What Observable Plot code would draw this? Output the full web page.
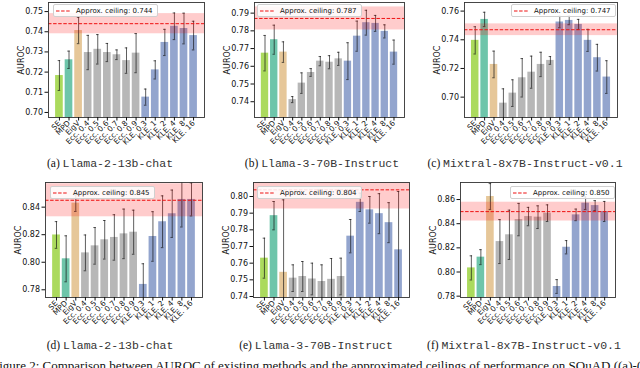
<!DOCTYPE html>
<html>
<head>
<meta charset="utf-8">
<script src="https://cdn.jsdelivr.net/npm/d3@7"></script>
<script src="https://cdn.jsdelivr.net/npm/@observablehq/plot@0.6"></script>
<style>
  html, body { margin: 0; padding: 0; background: #fff; }
  #root { position: relative; width: 640px; height: 368px; overflow: hidden; }
  .panel { position: absolute; }
  .panel svg { overflow: visible; }
  .cap { position: absolute; transform: translate(-50%, -50%); white-space: nowrap; font-size: 11.5px; color: #111; }
  .cap .p { font-family: "Liberation Serif", serif; }
  .cap .m { font-family: "Liberation Mono", monospace; color: #333; }
  .leg { position: absolute; background: rgba(255,255,255,0.85); border: 1px solid #d0d0d0; border-radius: 2px; white-space: nowrap;
         font-family: "DejaVu Sans", sans-serif; font-size: 7px; color: #111; display: flex; align-items: center; height: 13px; box-sizing: border-box; padding: 0 4px 0 2px; }
  .leg svg { margin-right: 5px; flex: none; }
  #fig { position: absolute; left: -8px; top: 358px; font-family: "Liberation Serif", serif; font-size: 13px; white-space: nowrap; color: #111; }
</style>
</head>
<body>
<div id="root"></div>
<script>
// ---- data ----
const categories = ["SE","MPD","EigV","Ecc. 0.4","Ecc. 0.5","Ecc. 0.6","Ecc. 0.7","Ecc. 0.8","Ecc. 0.9","KLE. 0.3","KLE. 1","KLE. 2","KLE. 4","KLE. 8","KLE. 16"];
const groups = ["SE","MPD","EigV","Ecc","Ecc","Ecc","Ecc","Ecc","Ecc","KLE","KLE","KLE","KLE","KLE","KLE"];
const groupColors = {SE: "#a6d854", MPD: "#66c2a5", EigV: "#e5c494", Ecc: "#b3b3b3", KLE: "#8da0cb"};

const modelNames = ["Llama-2-13b-chat","Llama-3-70B-Instruct","Mixtral-8x7B-Instruct-v0.1","Llama-2-13b-chat","Llama-3-70B-Instruct","Mixtral-8x7B-Instruct-v0.1"];
const panelTags = ["(a)","(b)","(c)","(d)","(e)","(f)"];

const aValues = [0.7183,0.7261,0.7406,0.7297,0.7313,0.7297,0.7286,0.7257,0.7294,0.7076,0.7211,0.7347,0.7427,0.7416,0.7381];
const aErrors = [0.0074,0.0043,0.0065,0.0085,0.0073,0.0045,0.0024,0.0063,0.0097,0.0040,0.0045,0.0065,0.0066,0.0076,0.0071];
const bValues = [0.7674,0.7750,0.7680,0.7412,0.7505,0.7565,0.7629,0.7623,0.7642,0.7629,0.7770,0.7846,0.7842,0.7797,0.7680];
const bErrors = [0.0100,0.0082,0.0058,0.0017,0.0058,0.0022,0.0026,0.0037,0.0037,0.0104,0.0085,0.0070,0.0045,0.0037,0.0068];
const cValues = [0.7396,0.7542,0.7228,0.6958,0.7028,0.7135,0.7174,0.7228,0.7256,0.7524,0.7535,0.7507,0.7396,0.7275,0.7140];
const cErrors = [0.0095,0.0050,0.0093,0.0100,0.0093,0.0134,0.0112,0.0085,0.0027,0.0040,0.0030,0.0035,0.0077,0.0093,0.0114];
const dValues = [0.8198,0.8025,0.8429,0.8068,0.8119,0.8163,0.8180,0.8206,0.8218,0.7839,0.8187,0.8294,0.8352,0.8456,0.8456];
const dErrors = [0.0097,0.0167,0.0060,0.0130,0.0133,0.0140,0.0165,0.0180,0.0160,0.0150,0.0180,0.0188,0.0172,0.0200,0.0120];
const eValues = [0.7630,0.7885,0.7545,0.7510,0.7520,0.7505,0.7490,0.7503,0.7520,0.7762,0.7965,0.7920,0.7897,0.7843,0.7680];
const eErrors = [0.0120,0.0085,0.0435,0.0080,0.0090,0.0095,0.0100,0.0125,0.0110,0.0100,0.0055,0.0080,0.0120,0.0120,0.0350];
const fValues = [0.8034,0.8123,0.8625,0.8252,0.8308,0.8434,0.8459,0.8454,0.8487,0.7880,0.8205,0.8473,0.8570,0.8550,0.8501];
const fErrors = [0.0100,0.0062,0.0107,0.0182,0.0204,0.0134,0.0076,0.0094,0.0069,0.0057,0.0055,0.0048,0.0052,0.0041,0.0083];

const ceilings = [0.744, 0.787, 0.747, 0.845, 0.804, 0.850];
const ceilingBands = [0.0050, 0.0065, 0.0041, 0.0120, 0.0115, 0.0078];

const yDomains = [[0.6975,0.7545],[0.7311,0.7960],[0.6858,0.7660],[0.7744,0.8579],[0.7394,0.8084],[0.7789,0.8741]];
const yTicks = [
  [0.70,0.71,0.72,0.73,0.74,0.75],
  [0.74,0.75,0.76,0.77,0.78,0.79],
  [0.70,0.72,0.74,0.76],
  [0.78,0.80,0.82,0.84],
  [0.74,0.75,0.76,0.77,0.78,0.79,0.80],
  [0.78,0.80,0.82,0.84,0.86]
];
const allValues = [aValues,bValues,cValues,dValues,eValues,fValues];
const allErrors = [aErrors,bErrors,cErrors,dErrors,eErrors,fErrors];

// ---- layout (frame rectangles in page px) ----
const frames = [
  {L:48, R:204, T:2, B:117},
  {L:254, R:404, T:2, B:117},
  {L:464, R:617, T:2, B:117},
  {L:45, R:202, T:182, B:297},
  {L:253, R:409, T:182, B:297},
  {L:460, R:615, T:182, B:297}
];
const legendPos = [
  {x:53, y:4}, {x:257, y:4}, {x:511, y:4},
  {x:50, y:186}, {x:257, y:186}, {x:510, y:186}
];
const capPos = [{x:110,y:163},{x:322,y:163},{x:525,y:163},{x:110,y:345},{x:316,y:345},{x:524,y:345}];

const ML = 40, MR = 6, MT = 6, MB = 50;
const xDomain = [-1.14, categories.length - 1 + 1.14];
const root = document.getElementById("root");

for (let p = 0; p < 6; p++) {
  const fr = frames[p];
  const vals = allValues[p], errs = allErrors[p];
  const data = categories.map((c, i) => ({i, c, v: vals[i], e: errs[i], g: groups[i]}));
  const y0 = yDomains[p][0];
  const ceil = ceilings[p], band = ceilingBands[p];
  const chart = Plot.plot({
    width: fr.R - fr.L + ML + MR,
    height: fr.B - fr.T + MT + MB,
    marginLeft: ML, marginRight: MR, marginTop: MT, marginBottom: MB,
    x: {domain: xDomain},
    y: {domain: yDomains[p]},
    style: {fontFamily: "DejaVu Sans, sans-serif", fontSize: "8px", color: "#111", background: "transparent", overflow: "visible"},
    marks: [
      Plot.rect(data, {x1: d => d.i - 0.4, x2: d => d.i + 0.4, y1: y0, y2: "v", fill: d => groupColors[d.g], fillOpacity: 0.95}),
      Plot.ruleX(data, {x: "i", y1: d => d.v - d.e, y2: d => d.v + d.e, stroke: "#111", strokeOpacity: 0.75, strokeWidth: 0.9, clip: true}),
      Plot.ruleY(data, {x1: d => d.i - 0.13, x2: d => d.i + 0.13, y: d => d.v - d.e, stroke: "#111", strokeOpacity: 0.75, strokeWidth: 0.9, clip: true}),
      Plot.ruleY(data, {x1: d => d.i - 0.13, x2: d => d.i + 0.13, y: d => d.v + d.e, stroke: "#111", strokeOpacity: 0.75, strokeWidth: 0.9, clip: true}),
      Plot.rect([ceil], {x1: xDomain[0], x2: xDomain[1], y1: d => d - band, y2: d => d + band, fill: "#ff0000", fillOpacity: 0.2, clip: true}),
      Plot.ruleY([ceil], {stroke: "#ee1111", strokeWidth: 1, strokeDasharray: "3.5,1.6"}),
      Plot.frame({stroke: "#333", strokeWidth: 0.9}),
      Plot.axisY({ticks: yTicks[p], tickFormat: d3.format(".2f"), tickSize: 3.5, tickPadding: 2, fontSize: 8,
                  label: "AUROC", labelAnchor: "center", labelArrow: "none", labelOffset: 30}),
      Plot.axisX({ticks: d3.range(categories.length), tickFormat: i => categories[i], tickRotate: -45, tickSize: 3.5, tickPadding: 1, fontSize: 7.5, label: null})
    ]
  });
  const div = document.createElement("div");
  div.className = "panel";
  div.style.left = (fr.L - ML) + "px";
  div.style.top = (fr.T - MT) + "px";
  div.appendChild(chart);
  root.appendChild(div);

  // legend
  const lg = legendPos[p];
  const leg = document.createElement("div");
  leg.className = "leg";
  leg.style.left = lg.x + "px";
  leg.style.top = lg.y + "px";
  leg.innerHTML = `<svg width="15" height="4"><line x1="0" y1="2" x2="15" y2="2" stroke="#ee1111" stroke-width="1" stroke-dasharray="3.5,1.6"/></svg><span>Approx. ceiling: ${ceil.toFixed(3)}</span>`;
  root.appendChild(leg);

  // caption
  const cp = capPos[p];
  const cap = document.createElement("div");
  cap.className = "cap";
  cap.style.left = cp.x + "px";
  cap.style.top = cp.y + "px";
  cap.innerHTML = `<span class="p">${panelTags[p]} </span><span class="m">${modelNames[p]}</span>`;
  root.appendChild(cap);
}

const fig = document.createElement("div");
fig.id = "fig";
fig.textContent = "Figure 2: Comparison between AUROC of existing methods and the approximated ceilings of performance on SQuAD ((a)-(c)) and TriviaQA ((d)-(f)).";
root.appendChild(fig);
</script>
</body>
</html>
